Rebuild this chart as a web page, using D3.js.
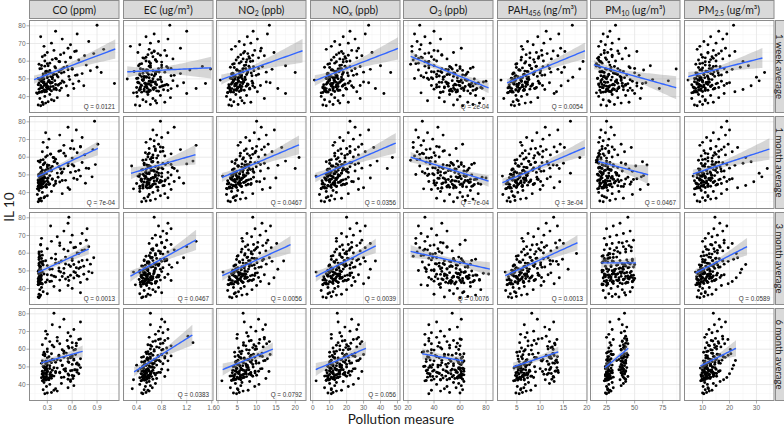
<!DOCTYPE html>
<html>
<head>
<meta charset="utf-8">
<script src="https://cdn.jsdelivr.net/npm/d3@7"></script>
<style>
  body { margin: 0; background: #fff; }
  svg { display: block; }
</style>
</head>
<body>
<script>
// ---- data ----
const periods = ["1 week average", "1 month average", "3 month average", "6 month average"];

// IL 10 for every subject (same subjects in each panel)
const il10 = [
  34.8, 35.5, 35.2, 36.3, 37.1, 36.8, 38.2, 38.9, 39.4, 40.1, 40.6, 41.2, 41.7, 37.6,
  42.1, 42.5, 42.9, 43.2, 43.6, 43.9, 44.2, 44.5, 44.8, 45.1, 45.4, 45.7, 46.0, 46.3, 46.6, 46.9, 47.2, 47.5, 47.8, 48.1, 48.4, 48.7, 49.0, 49.3, 49.6, 49.9, 42.7, 43.4, 44.0, 44.6, 45.3, 46.1, 46.8, 47.4, 48.2, 48.9,
  50.2, 50.6, 51.0, 51.4, 51.8, 52.2, 52.6, 53.0, 53.4, 53.8, 54.2, 54.6, 55.0, 55.4, 55.8, 56.2, 56.6, 57.0, 57.4, 57.8, 50.9, 52.0, 53.6, 55.6,
  58.3, 58.9, 59.5, 60.1, 60.7, 61.3, 61.9, 62.5, 63.1, 63.7, 64.3, 64.9, 65.5, 66.1, 66.7, 67.3, 59.8,
  68.4, 69.3, 70.2, 71.1, 72.5, 73.8, 75.4, 76.9, 80.3,
  42.3, 43.1, 43.7, 44.4, 45.0, 45.6, 46.2, 46.7, 47.3, 47.9, 48.5, 49.1, 49.7, 42.6, 43.5, 44.1, 44.9, 45.5, 46.4, 47.0, 47.7, 48.3, 49.4, 43.0, 44.7, 46.5, 48.0, 49.5, 45.8, 47.6,
  50.4, 51.2, 52.4, 53.2, 54.0, 54.8, 55.7, 56.4, 57.2, 50.7, 51.6, 52.8, 53.9, 55.2, 56.9, 57.6, 51.3, 53.3, 54.4, 55.9, 50.1, 52.5,
  58.6, 59.7, 60.9, 62.2, 63.4, 64.6, 61.6, 65.8
];

// exposure per subject, one list per averaging window (same subject order as il10)
const xCO = [
  [0.22,0.25,0.19,0.28,0.31,0.24,0.35,0.21,0.42,0.27,0.55,0.33,0.18,0.38, 0.17,0.23,0.29,0.35,0.26,0.41,0.2,0.32,0.47,0.24,0.3,0.37,0.53,0.22,0.28,0.44,0.61,0.34,0.25,0.5,0.31,0.68,0.39,0.21,0.57,0.36,0.27,0.45,0.33,0.62,0.29,0.74,0.4,1.11,0.26,0.48, 0.19,0.3,0.43,0.56,0.25,0.66,0.38,0.72,0.34,0.5,0.28,0.82,0.46,0.6,0.23,0.4,0.9,0.54,0.31,0.77,0.36,0.64,0.95,0.48, 0.2,0.33,0.52,0.27,0.68,0.41,0.58,0.24,0.75,0.46,0.86,0.3,0.63,0.38,0.98,0.55,0.44, 0.26,0.58,0.35,0.8,0.48,0.22,0.66,0.4,0.9,
   0.2,0.24,0.27,0.3,0.22,0.34,0.26,0.19,0.29,0.36,0.23,0.32,0.25,0.21,0.28,0.38,0.24,0.31,0.43,0.27,0.2,0.33,0.23,0.26,0.4,0.29,0.35,0.22,0.3,0.46, 0.24,0.3,0.37,0.28,0.44,0.33,0.21,0.5,0.27,0.36,0.42,0.25,0.31,0.55,0.39,0.23,0.34,0.47,0.29,0.6,0.26,0.41, 0.3,0.45,0.36,0.58,0.27,0.5,0.4,0.65],
  [0.19,0.21,0.23,0.2,0.26,0.22,0.3,0.18,0.48,0.24,0.35,0.2,0.57,0.27, 0.18,0.2,0.22,0.25,0.19,0.28,0.21,0.32,0.23,0.4,0.2,0.26,0.45,0.22,0.3,0.52,0.19,0.36,0.24,0.62,0.27,0.43,0.21,0.7,0.33,0.25,0.55,0.2,0.38,0.29,0.76,0.23,0.48,0.66,0.31,0.84, 0.2,0.26,0.42,0.58,0.23,0.35,0.68,0.29,0.5,0.77,0.22,0.44,0.62,0.32,0.88,0.26,0.55,0.72,0.38,0.19,0.47,0.64,0.8,0.3, 0.22,0.4,0.6,0.28,0.52,0.75,0.34,0.66,0.24,0.46,0.85,0.58,0.3,0.7,0.5,0.91,0.37, 0.25,0.6,0.32,0.72,0.45,0.28,0.65,0.55,0.87,
   0.19,0.21,0.23,0.2,0.25,0.22,0.27,0.19,0.24,0.3,0.21,0.26,0.2,0.23,0.28,0.22,0.33,0.19,0.25,0.21,0.36,0.24,0.2,0.29,0.22,0.4,0.26,0.23,0.31,0.21, 0.2,0.23,0.27,0.31,0.22,0.36,0.25,0.42,0.21,0.29,0.48,0.24,0.34,0.55,0.27,0.39,0.22,0.46,0.3,0.6,0.26,0.35, 0.25,0.38,0.3,0.5,0.44,0.62,0.34,0.7],
  [0.2,0.21,0.19,0.22,0.3,0.2,0.25,0.45,0.21,0.6,0.23,0.38,0.55,0.7, 0.19,0.2,0.22,0.21,0.28,0.19,0.35,0.2,0.45,0.23,0.52,0.2,0.62,0.22,0.4,0.68,0.21,0.58,0.3,0.74,0.2,0.5,0.64,0.24,0.8,0.44,0.21,0.7,0.33,0.56,0.78,0.2,0.48,0.66,0.26,0.84, 0.2,0.22,0.36,0.5,0.65,0.21,0.74,0.3,0.56,0.82,0.2,0.44,0.68,0.25,0.6,0.78,0.4,0.23,0.86,0.52,0.33,0.7,0.62,0.47, 0.21,0.24,0.4,0.66,0.2,0.55,0.75,0.3,0.62,0.8,0.45,0.22,0.7,0.58,0.35,0.77,0.68, 0.23,0.42,0.6,0.72,0.5,0.78,0.34,0.55,0.56,
   0.19,0.2,0.21,0.2,0.22,0.19,0.21,0.2,0.23,0.21,0.2,0.22,0.19,0.24,0.2,0.21,0.3,0.2,0.22,0.38,0.21,0.2,0.46,0.23,0.2,0.55,0.22,0.62,0.21,0.35, 0.2,0.21,0.22,0.2,0.24,0.21,0.28,0.2,0.35,0.22,0.44,0.21,0.52,0.23,0.6,0.2,0.68,0.25,0.4,0.72,0.21,0.58, 0.21,0.2,0.23,0.5,0.64,0.22,0.72,0.45],
  [0.27,0.35,0.3,0.42,0.25,0.38,0.55,0.29,0.62,0.33,0.47,0.26,0.58,0.4, 0.24,0.28,0.31,0.26,0.35,0.23,0.5,0.29,0.38,0.6,0.25,0.33,0.55,0.27,0.45,0.66,0.3,0.24,0.58,0.36,0.63,0.28,0.52,0.42,0.7,0.26,0.32,0.61,0.47,0.25,0.56,0.68,0.34,0.4,0.64,0.3, 0.25,0.33,0.48,0.6,0.28,0.66,0.4,0.55,0.24,0.62,0.36,0.7,0.3,0.5,0.58,0.27,0.44,0.64,0.35,0.53,0.68,0.23,0.46,0.6, 0.26,0.5,0.62,0.3,0.56,0.38,0.65,0.24,0.45,0.6,0.33,0.54,0.68,0.28,0.42,0.58,0.64, 0.3,0.55,0.28,0.62,0.45,0.36,0.7,0.5,0.38,
   0.25,0.28,0.32,0.26,0.36,0.29,0.24,0.4,0.3,0.27,0.5,0.33,0.26,0.58,0.31,0.28,0.62,0.35,0.25,0.45,0.3,0.66,0.27,0.55,0.34,0.29,0.6,0.38,0.24,0.52, 0.26,0.3,0.35,0.28,0.42,0.55,0.32,0.6,0.27,0.48,0.65,0.3,0.38,0.58,0.25,0.5,0.68,0.33,0.62,0.44,0.29,0.56, 0.3,0.48,0.6,0.36,0.65,0.42,0.55,0.7]
];
const xEC = [
  [0.45,0.62,0.38,0.72,0.55,0.85,0.5,0.66,0.94,0.41,0.78,0.58,1.2,0.7, 0.35,0.48,0.6,0.72,0.44,0.83,0.52,0.95,0.66,0.4,0.77,0.56,1.05,0.63,0.47,0.88,0.7,0.53,1.15,0.42,0.8,0.6,0.98,0.5,0.74,0.25,0.58,0.9,0.67,1.35,0.46,0.82,0.55,1.5,0.7,0.62, 0.4,0.6,0.78,0.52,0.95,0.45,0.7,1.1,0.57,0.85,0.36,0.66,1.25,0.5,0.75,0.9,0.62,1.45,0.43,0.8,0.56,1.0,0.7,1.58, 0.45,0.62,0.8,0.55,0.7,0.98,0.5,0.66,0.88,0.58,0.74,0.42,0.68,0.85,0.6,1.1,0.72, 0.3,0.45,0.62,0.75,0.9,0.55,0.68,1.2,0.93,
   0.4,0.52,0.6,0.45,0.68,0.55,0.48,0.72,0.58,0.42,0.65,0.5,0.78,0.56,0.62,0.46,0.7,0.53,0.85,0.6,0.44,0.66,0.51,0.75,0.57,0.9,0.63,0.49,0.8,0.54, 0.42,0.55,0.64,0.5,0.72,0.58,0.46,0.8,0.6,0.52,0.68,0.45,0.76,0.56,0.88,0.62,0.48,0.7,0.54,0.95,0.66,0.59, 0.48,0.6,0.7,0.55,0.78,0.64,0.52,0.68],
  [0.48,0.62,0.55,0.7,0.9,0.52,0.78,0.6,0.85,0.66,0.45,0.74,0.95,0.58, 0.35,0.5,0.62,0.72,0.45,0.82,0.56,0.66,0.92,0.4,0.6,0.76,0.52,1.0,0.68,0.47,0.86,0.58,0.73,0.64,1.08,0.55,0.8,0.42,0.7,0.95,0.6,0.5,0.84,0.66,1.15,0.57,0.78,0.48,0.9,0.7, 0.45,0.6,0.75,0.9,0.55,1.05,0.66,0.5,0.82,0.62,0.97,0.7,0.32,0.58,0.86,1.2,0.52,0.74,0.64,1.3,0.8,0.68,1.0,0.56, 0.5,0.62,0.72,0.58,0.85,0.66,0.95,0.54,0.78,0.7,1.1,0.6,0.82,0.68,1.35,0.75,0.64, 0.55,0.68,0.62,0.8,0.72,0.9,0.66,1.0,0.78,
   0.45,0.55,0.62,0.5,0.68,0.58,0.48,0.72,0.6,0.53,0.66,0.44,0.75,0.57,0.64,0.5,0.7,0.56,0.8,0.61,0.47,0.67,0.54,0.74,0.59,0.85,0.63,0.52,0.78,0.58, 0.5,0.6,0.68,0.55,0.75,0.62,0.52,0.82,0.65,0.57,0.72,0.48,0.8,0.6,0.9,0.66,0.54,0.74,0.58,0.95,0.7,0.63, 0.55,0.66,0.74,0.6,0.82,0.7,0.58,0.78],
  [0.48,0.55,0.5,0.62,0.45,0.58,0.7,0.52,0.66,0.6,0.75,0.47,0.56,0.8, 0.38,0.5,0.56,0.62,0.46,0.7,0.53,0.6,0.78,0.44,0.58,0.66,0.5,0.85,0.57,0.63,0.48,0.74,0.55,0.9,0.6,0.52,0.68,0.35,0.8,0.58,0.64,0.5,0.72,0.95,0.56,0.62,0.47,0.76,0.67,0.54, 0.45,0.58,0.7,0.55,0.82,0.63,0.5,0.75,0.92,0.6,0.68,1.05,0.57,0.8,0.66,0.52,0.88,0.72,1.15,0.62,0.78,0.96,0.7,0.85, 0.55,0.7,0.82,0.62,0.9,0.75,1.0,0.66,0.85,1.2,0.72,0.95,0.6,0.8,1.35,0.88,0.78, 0.65,0.78,0.7,0.88,0.82,0.95,0.75,0.9,0.68,
   0.46,0.52,0.58,0.5,0.62,0.55,0.48,0.66,0.57,0.51,0.6,0.45,0.68,0.54,0.59,0.49,0.64,0.53,0.72,0.56,0.47,0.61,0.52,0.7,0.55,0.75,0.58,0.5,0.65,0.54, 0.5,0.58,0.66,0.54,0.72,0.6,0.52,0.78,0.63,0.56,0.7,0.48,0.76,0.59,0.84,0.65,0.53,0.74,0.57,0.88,0.68,0.62, 0.6,0.7,0.78,0.64,0.85,0.72,0.66,0.8],
  [0.5,0.55,0.48,0.6,0.52,0.58,0.65,0.54,0.62,0.45,0.7,0.56,0.6,0.33, 0.47,0.52,0.56,0.5,0.6,0.45,0.54,0.64,0.5,0.58,0.7,0.53,0.48,0.62,0.56,0.75,0.51,0.6,0.42,0.66,0.55,0.8,0.58,0.5,0.68,0.62,0.35,0.72,0.57,0.85,0.6,0.53,0.78,0.64,0.9,0.58, 0.5,0.6,0.72,0.55,0.82,0.64,0.52,0.78,0.9,0.58,0.7,0.62,0.85,0.48,0.75,0.95,0.66,0.8,0.56,0.88,0.4,0.68,0.76,0.62, 0.55,0.68,0.8,0.62,0.88,0.72,0.95,0.58,0.78,1.3,0.66,0.85,0.75,0.9,0.6,1.22,0.82, 0.7,0.82,0.75,0.9,0.78,0.62,0.85,0.8,0.62,
   0.48,0.52,0.56,0.5,0.6,0.54,0.47,0.63,0.55,0.51,0.58,0.46,0.65,0.53,0.57,0.49,0.61,0.52,0.68,0.55,0.48,0.59,0.51,0.66,0.54,0.72,0.57,0.5,0.62,0.53, 0.5,0.56,0.62,0.53,0.68,0.58,0.51,0.74,0.6,0.55,0.66,0.48,0.72,0.57,0.8,0.63,0.52,0.7,0.56,0.85,0.65,0.6, 0.58,0.68,0.76,0.62,0.82,0.7,0.64,0.78]
];
const xNO2 = [
  [3.5,5.2,2.8,6.8,4.1,8.5,3.2,12,5.8,2.2,7.4,4.6,17.5,6.2, 2.5,4,5.5,3.2,6.8,4.6,8.2,3.6,5.1,9.5,2.9,6.2,4.3,11,5.7,3.4,7.6,4.9,13.5,6.5,3.9,8.8,5.3,0.6,7.1,4.4,10.2,6,3.1,15.5,5.1,9,7.8,4.7,12.5,6.6, 3.5,5.2,7,4.4,8.8,6.1,10.5,3.9,7.6,12.5,5.5,9.3,4.8,14,6.6,8.2,3.2,11.5,17.5,7.2,5.9,9.9,20,6.4, 3.8,5.5,7.3,9,4.7,6.5,10.5,8,12,5.9,7.7,14.5,6.9,9.5,3.5,11.2,8.4, 4.5,6.8,8.5,5.5,10.2,7.6,12.8,9.1,13.3,
   2.5,3.4,4.2,5,3,5.8,4.6,2.8,6.4,3.8,5.3,4.1,7,3.3,4.8,6,2.6,5.5,7.6,4.4,3.6,6.7,5.1,3.1,8.2,4.7,5.9,3.9,7.3,9, 3.2,4.5,5.6,3.8,6.5,5,7.2,4.2,8,5.4,6.1,3.5,7.7,4.9,9.2,6.8,4,8.6,5.8,10.5,6.3,7.4, 4.2,6,7.5,5.2,9,6.6,8.2,11],
  [3.2,4.5,2.6,5.8,3.9,7.2,4.8,2.2,9,6.3,3.5,5.1,11.5,4.2, 2.4,3.6,4.8,3,6,4.2,7.3,3.4,5.3,8.6,2.8,6.6,4.5,10,5.6,3.8,7.9,4.9,12,6.3,3.2,9.2,5.4,1.2,7.2,4.6,13.5,6.1,3.9,8.5,5.8,10.8,7.4,4.3,15,6.8, 3.9,5.6,7.5,9.3,4.8,11,6.5,8.4,4.2,13,7.1,9.9,5.3,15.5,8,6.2,12,10.4,3.6,17.5,7.8,9.1,20,6.9, 4.6,6.4,8.5,10.5,5.7,12.2,7.6,9.6,14,6.8,11.3,8.9,16.5,10,5.2,13,21, 5.8,8.2,10.6,7.2,12.5,9.4,14.6,11.2,10,
   2.2,3.1,3.9,4.7,2.7,5.4,4.3,2.5,6,3.5,5,3.8,6.6,3,4.5,5.7,2.4,5.2,7.2,4.1,3.3,6.3,4.8,2.9,7.8,4.4,5.6,3.6,6.9,8.5, 3.4,4.7,5.8,4,6.8,5.2,7.5,4.4,8.4,5.6,6.4,3.7,8,5.1,9.6,7.1,4.2,9,6.1,11,6.6,7.7, 4.8,6.6,8.2,5.8,9.8,7.3,9,12],
  [3.6,4.8,3,6.2,4.2,7.5,5.3,2.5,8.8,5.9,4,6.8,10,4.5, 2.8,4,5.2,3.4,6.5,4.6,7.8,3.7,5.8,9.2,3.1,6.9,4.9,10.5,6,4.3,8.4,5.4,12,7.2,3.5,9.7,5.7,1.3,7.6,4.8,13.2,6.4,11,8.8,5.1,14.5,7,9.5,6.2,10.2, 4.2,6,7.9,9.6,5.1,11.2,6.8,8.8,4.6,12.5,7.4,10.1,5.6,14,8.3,6.4,11.8,9.4,13.3,7.7,15.5,10.6,8.1,17, 5,6.9,8.9,10.8,6,12.4,7.9,9.8,13.8,7.1,11.6,9.2,15.2,10.3,6.4,12.9,8.6, 6.2,8.7,10.9,7.5,12.4,9.6,13.6,11.4,9,
   2.6,3.5,4.3,5.1,3.1,5.8,4.7,2.9,6.4,3.9,5.4,4.2,7,3.4,4.9,6.1,2.8,5.6,7.6,4.5,3.7,6.7,5.2,3.3,8.2,4.8,6,4,7.3,8.9, 3.8,5.1,6.2,4.4,7.2,5.6,7.9,4.8,8.8,6,6.8,4.1,8.4,5.5,10,7.5,4.6,9.4,6.5,11.5,7,8.1, 5.2,7,8.6,6.2,10.2,7.7,9.4,12.5],
  [4.8,5.5,4,6.5,5.2,7.8,3.2,9.5,5.9,10.6,4.5,6.2,8.2,5, 1,3.6,4.6,5.4,4.1,6.3,5,7.4,3.1,5.8,8.6,4.4,6.8,5.3,9.6,4.9,7.2,10.5,5.6,3.8,8,6.1,11.4,4.7,7.7,9.1,5.9,12.4,6.6,4.2,10,7.3,8.5,13.2,6.4,11, 3.9,5.6,7.3,9,4.7,10.6,6.4,8.3,11.8,5.2,7.9,12.8,6.8,9.5,4.4,10.9,8.6,13.5,6,11.4,7.6,9.9,12.2,5.5, 4.3,6.2,8.1,10,5.3,11.7,7.2,9.3,12.6,6.6,13.3,8.6,10.8,4.9,12,7.8,9.6, 5,7.4,9.8,11.6,8.5,12.3,6.8,10.5,6.5,
   3.5,4.3,5,5.8,3.9,6.5,5.4,3.7,7.1,4.6,6.1,4.9,7.8,4.1,5.6,6.8,3.4,6.3,8.4,5.2,4.4,7.4,5.9,4,9,5.5,6.7,4.7,8,9.6, 4.2,5.5,6.6,4.8,7.6,6,8.3,5.2,9.2,6.4,7.2,4.5,8.8,5.9,10.4,7.9,5,9.8,6.9,11.5,7.4,8.6, 5.6,7.4,9,6.6,10.6,8.1,9.8,12]
];
const xNOx = [
  [8,12,6,16,10,21,7,28,13,5,18,11,42,15, 5,9,13,7,16,10,20,8,12,24,6,15,11,28,14,8,19,12,33,16,9,22,13,1,18,10,26,15,7,37,12,23,19,11,30,17, 8,12,17,10,21,14,26,9,18,30,13,23,11,34,16,20,7,28,40,17,14,24,46,15, 9,13,18,22,11,16,26,19,29,14,18,35,17,23,8,27,20, 11,16,21,13,25,18,31,22,33,
   6,8,10,12,7,14,11,6.5,15,9,13,10,17,8,12,14.5,6,13.5,18,10.5,8.5,16,12.5,7.5,19.5,11.5,14,9.5,17.5,21, 8,11,13.5,9,15.5,12,17,10,19,13,14.5,8.5,18,11.5,22,16,9.5,20.5,14,25,15,17.5, 10,14,18,12.5,21,15.5,19.5,26],
  [7,10,5,13,8,17,11,4,21,14,8,12,27,9, 5,8,11,6,14,9,17,7,12,20,6,15,10,23,13,8,18,11,27,14,7,21,12,2,16,10,30,14,9,19,13,24,17,10,34,15, 9,13,17,21,11,25,15,19,10,29,16,22,12,34,18,14,27,23,8,38,17,20,44,15, 10,14,19,24,13,27,17,22,31,15,25,20,36,22,12,29,47, 13,18,24,16,28,21,33,25,22,
   5,7,9,11,6,12.5,10,5.5,14,8,12,9,15.5,7,10.5,13,5.5,12,16.5,9.5,7.5,14.5,11,6.5,18,10,13.5,8.5,16,19.5, 8,10.5,13,9,15,11.5,17,10,19,12.5,14,8.5,18,11,22,16,9.5,20.5,13.5,25,15,17.5, 11,15,19,13,22,16.5,20.5,27],
  [8,11,6,14,9,17,12,5,20,13,9,15,23,10, 6,9,12,7,15,10,18,8,13,21,7,16,11,24,14,9,19,12,27,16,8,22,13,2,17,11,30,15,25,20,12,33,16,22,14,23, 9,14,18,22,11,25,15,20,10,28,17,23,13,31,19,14,27,21,30,17,34,24,18,37, 11,16,20,24,13,28,18,22,31,16,26,21,34,23,14,29,19, 14,20,24,17,28,22,31,26,20,
   6,8,10,12,7,13.5,11,6.5,15,9,13,10,16.5,8,11.5,14,6,13,17.5,10.5,8.5,15.5,12,7.5,19,11,14.5,9.5,17,20.5, 9,12,14.5,10,16.5,13,18.5,11,20.5,14,15.5,9.5,19.5,12.5,23.5,17.5,10.5,22,15,26,16,19, 12,16,20,14,23,17.5,21.5,28],
  [11,12,9,14,11,17,7,21,13,24,10,14,18,11, 2,8,10,12,9,14,11,16,7,13,19,10,15,12,21,11,16,23,12,8,18,14,25,10,17,20,13,27,15,9,22,16,19,29,14,24, 9,12,16,20,10,23,14,18,26,11,17,28,15,21,10,24,19,30,13,25,17,22,27,12, 10,14,18,22,12,26,16,20,28,15,29,19,24,11,27,17,21, 11,16,22,26,19,27,15,23,14.5,
   8,9.5,11,12.5,9,14,12,8.5,15.5,10,13.5,11,17,9.5,12.5,15,8,14,18.5,11.5,10,16.5,13,9,20,12,15.5,10.5,18,21.5, 9,12,14.5,10.5,16.5,13,18.5,11.5,20,14,16,10,19.5,13,23,17.5,11,21.5,15,25,16,19, 12.5,16,19.5,14,22.5,17.5,21,26]
];
const xO3 = [
  [62,70,55,75,48,66,58,78,44,60,72,52,68,35, 30,45,58,66,52,72,40,61,55,76,48,64,70,38,57,68,50,74,62,44,59,80,54,66,36,71,47,63,56,73,42,60,67,51,78,58, 25,38,47,55,30,62,42,51,34,66,45,58,28,49,60,36,70,52,40,57,32,64,46,54, 22,28,35,42,24,50,31,38,26,46,33,55,23,40,29,61,36, 23,30,37,27,45,33,25,40,29,
   45,52,58,63,48,68,55,42,72,50,60,65,47,57,70,53,62,44,67,56,74,49,61,54,77,59,46,64,51,69, 35,42,50,56,38,62,46,53,33,58,44,65,40,51,60,36,48,55,43,68,39,52, 26,33,40,30,46,36,28,43],
  [55,64,48,70,58,42,66,52,74,60,45,68,38,62, 32,46,57,65,50,70,41,60,54,74,47,63,68,36,56,66,49,72,61,43,58,77,53,65,35,69,46,62,55,71,40,59,64,51,80,57, 26,39,48,56,31,63,43,52,35,67,46,59,29,50,61,37,71,53,41,58,33,65,47,55, 22,29,36,44,25,52,32,40,27,48,34,57,24,42,30,62,38, 24,32,39,28,47,35,26,43,31,
   43,50,56,62,46,67,53,40,71,48,59,64,45,55,69,51,61,42,66,54,73,47,60,52,76,57,44,63,49,68, 36,43,51,57,39,63,47,54,34,59,45,66,41,52,61,37,49,56,44,69,40,53, 27,34,41,31,47,37,29,44],
  [60,66,48,72,55,40,63,52,76,58,45,68,35,62, 30,44,56,63,49,70,40,60,53,75,46,62,67,36,55,65,48,73,60,42,58,78,52,64,34,69,45,61,54,71,38,59,66,50,82,57, 28,40,50,57,33,64,44,53,36,68,47,60,31,52,62,38,72,55,42,59,34,66,48,56, 24,32,39,46,27,54,35,43,29,50,37,60,26,45,33,64,41, 26,35,42,30,50,38,28,46,33,
   44,51,57,62,47,66,54,41,70,49,59,63,46,56,68,52,60,43,65,55,72,48,61,53,75,58,45,64,50,67, 38,45,52,58,41,63,48,55,36,60,46,66,42,53,61,39,50,57,44,69,40,54, 30,37,44,33,50,40,32,47],
  [36,52,60,45,62,38,57,50,61,42,59,55,63,48, 33,38,45,52,58,61,35,42,49,55,60,62,37,44,51,57,61,63,34,40,47,54,59,62,36,43,50,56,60,39,46,53,58,61,35,63, 32,37,43,49,55,59,62,34,40,46,52,57,61,36,42,48,54,60,63,38,45,51,58,62, 31,35,40,46,52,57,60,33,38,44,50,55,61,36,42,48,59, 33,38,45,52,58,36,42,61,54,
   34,40,47,54,59,61,36,43,50,57,60,62,38,45,52,58,61,63,35,42,49,56,60,62,37,44,53,59,61,39, 33,39,46,53,58,61,35,41,48,55,60,62,37,44,51,57,61,63,34,42,50,59, 32,38,45,52,58,36,43,60]
];
const xPAH = [
  [4.5,5.5,3.8,6.8,4.2,8,5,2.2,9.5,6,4.8,7.2,13,5.3, 3,4.2,5.3,3.6,6.6,4.8,7.8,3.9,5.7,9.2,3.3,6.9,5,10.5,6.2,4.4,8.4,5.5,12,7.1,3.7,9.6,6,1.6,7.5,4.6,13.5,6.4,11,8.8,5.2,14.5,7.3,9.9,6.8,16, 4,5.8,7.5,9.4,4.8,11,6.6,8.5,4.3,12.3,7.2,10.1,5.4,13.8,8.1,6.2,15.2,9.1,11.7,7.7,17,10.4,14.6,18.5, 4.8,6.7,8.8,10.7,5.9,12.4,7.8,9.7,13.8,7,11.5,9.2,15.3,10.3,6.3,14.4,19.2, 6,8.5,10.8,7.3,12.2,9.5,14,11.3,16.9,
   3.2,4,4.8,5.6,3.6,6.3,5.2,3.4,7,4.4,6,4.7,7.6,3.9,5.4,6.6,3.1,6.1,8.3,5,4.2,7.3,5.8,3.7,9,5.3,6.8,4.5,8,9.8, 3.8,5.2,6.4,4.4,7.4,5.7,8.2,4.9,9.2,6.2,7,4.1,8.8,5.5,10.6,7.8,4.6,10,6.7,12,7.2,8.6, 5,6.9,8.6,6,10.4,7.8,9.6,12.8],
  [3.6,4.6,2.9,5.8,3.3,7,4.2,2,8.3,5.2,3.9,6.3,10,4.5, 2.6,3.8,4.9,3.2,6.1,4.4,7.3,3.5,5.4,8.8,3,6.6,4.7,10.1,5.9,4.1,8,5.2,11.5,6.8,3.4,9.3,5.7,1.9,7.2,4.3,13,6.2,10.6,8.5,5,14.2,7,9.6,6.5,12.2, 3.8,5.6,7.4,9.2,4.6,10.8,6.4,8.3,4.1,12.1,7,9.9,5.2,13.6,7.9,6,15,8.9,11.5,7.5,16.5,10.2,14.1,12.8, 4.6,6.5,8.6,10.5,5.7,12.2,7.6,9.5,13.6,6.8,11.3,9,15.2,10.1,6.1,14.3,18.5, 5.8,8.3,10.6,7.1,12,9.3,13.8,11.1,16.5,
   2.8,3.6,4.4,5.2,3.2,5.9,4.8,3,6.6,4,5.6,4.3,7.2,3.5,5,6.2,2.7,5.7,7.9,4.6,3.8,6.9,5.4,3.3,8.6,4.9,6.4,4.1,7.6,9.4, 3.6,5,6.2,4.2,7.2,5.5,8,4.7,9,6,6.8,3.9,8.6,5.3,10.4,7.6,4.4,9.8,6.5,11.8,7,8.4, 5,7,8.8,6.2,10.6,8,9.8,13],
  [3.9,4.9,3.2,6,3.6,7.2,4.5,2.6,8.5,5.5,4.2,6.6,10.2,4.8, 2.9,4.1,5.2,3.5,6.4,4.7,7.6,3.8,5.7,9,3.3,6.9,5,10.3,6.2,4.4,8.3,5.5,11.7,7.1,3.7,9.5,6,2.5,7.5,4.6,13,6.5,10.8,8.7,5.3,14.1,7.3,9.8,6.8,12.3, 4.1,5.9,7.7,9.4,4.9,11,6.7,8.5,4.4,12.2,7.3,10.1,5.5,13.5,8.2,6.3,14.8,9.1,11.7,7.8,16,10.4,13.9,12.7, 4.9,6.8,8.8,10.7,6,12.3,7.9,9.7,13.6,7.1,11.4,9.3,15,10.3,6.4,14.2,17.8, 6.1,8.6,10.8,7.4,12.1,9.6,13.7,11.3,12.9,
   3,3.8,4.6,5.4,3.4,6.1,5,3.2,6.8,4.2,5.8,4.5,7.4,3.7,5.2,6.4,2.9,5.9,8.1,4.8,4,7.1,5.6,3.5,8.8,5.1,6.6,4.3,7.8,9.6, 3.9,5.3,6.5,4.5,7.5,5.8,8.3,5,9.3,6.3,7.1,4.2,8.9,5.6,10.7,7.9,4.7,10.1,6.8,12.1,7.3,8.7, 5.3,7.3,9.1,6.5,10.9,8.3,10.1,13.3],
  [5.5,6.2,4.8,7,5.8,8,6.5,5.1,9,6.8,12,7.5,13,5.9, 4.3,5.2,5.9,6.6,5,7.3,5.6,6.1,8.2,4.7,6.8,11.5,5.4,12.4,7.1,6,9,13.2,5.8,7.7,12,6.4,10,4.4,13.6,6.9,11.1,5.5,8.6,12.8,6.3,7.4,13.9,10.5,5.3,12.2, 4.8,5.9,7.2,11.8,6.4,12.7,8,5.5,13.3,7,10.6,6.2,12.1,8.8,13.7,5.2,11.3,7.6,12.9,9.6,6.7,13.1,10.2,11.9, 5,6.5,8.1,11.7,6,12.6,7.4,13.2,9.2,5.6,12,8.7,13.6,10.4,6.8,11.3,12.8, 5.8,7.2,8.6,12,11,6.6,12.9,9.4,8.2,
   4.6,5.2,5.8,6.4,5,7,5.5,4.8,7.6,6,11.2,5.3,12.3,6.6,5.7,12.9,6.2,7.3,11.8,5.1,13.4,6.9,5.9,12.5,8,6.5,13.8,5.4,10.8,7.8, 5,5.8,6.6,11.5,7.2,12.4,6,13,8.4,5.5,11.9,6.9,13.5,9.2,6.3,12.7,7.7,10.4,5.3,12.2,8.8,13.7, 5.6,6.8,12.3,8.2,13.1,7.4,11.6,9.6]
];
const xPM10 = [
  [25,32,20,38,28,45,22,55,35,18,42,30,50,27, 16,22,28,34,19,40,25,31,46,21,36,27,52,23,30,42,18,35,60,26,33,48,20,29,66,38,24,44,32,72,27,39,21,57,34,80, 17,24,30,37,20,43,27,33,50,22,40,29,58,25,35,46,19,32,64,28,38,54,23,87, 16,21,27,33,18,39,24,30,45,20,36,26,52,23,29,42,19, 18,24,30,20,36,26,22,28,33,
   20,25,30,35,22,40,28,18,44,24,33,38,21,29,48,26,36,19,42,31,52,23,34,27,56,32,20,46,25,39, 17,22,27,32,19,37,24,29,16,41,23,34,20,28,45,18,26,31,21,50,25,35, 16,20,25,18,30,23,17,35],
  [22,28,19,33,25,40,21,48,30,18,36,26,55,23, 17,21,25,30,19,35,23,27,41,20,32,24,47,22,28,38,18,31,52,26,29,44,20,25,58,34,22,40,28,62,24,36,19,49,30,56, 17,22,27,33,19,39,24,29,45,20,35,26,51,22,31,42,18,28,57,25,34,48,21,61, 16,20,25,30,18,35,22,27,41,19,32,24,47,21,26,38,17, 18,22,27,19,32,24,20,29,25,
   18,21,24,28,19,32,23,17,35,20,26,30,18,22,38,25,29,19,33,24,42,21,27,23,46,26,20,36,22,31, 17,20,23,27,18,31,21,25,16,34,20,28,18,24,38,17,22,26,19,42,21,29, 17,20,23,18,27,21,19,30],
  [24,30,36,42,27,33,46,22,39,29,48,35,25,41, 21,26,31,37,43,48,23,28,34,40,45,50,22,27,33,38,44,49,24,30,35,41,46,21,26,32,39,44,48,25,29,36,42,47,23,31, 22,27,33,39,44,49,24,29,35,41,46,21,26,31,37,43,48,23,28,34,40,45,50,30, 21,26,31,37,42,47,23,28,34,40,45,25,30,36,43,49,27, 23,28,34,40,46,25,31,37,44,
   22,26,30,35,40,45,48,24,28,33,38,43,47,21,25,31,36,41,46,23,27,32,37,42,49,29,34,39,44,26, 21,25,29,34,39,44,48,23,27,32,37,42,46,22,26,31,36,41,45,24,30,40, 22,28,35,42,47,25,32,39],
  [25,27,24,29,26,28,31,25,38,27,40,30,42,26, 23,25,27,24,29,26,31,25,28,39,24,27,41,26,30,38,25,28,42,27,36,40,24,29,43,26,37,41,28,44,25,39,30,42,27,40, 24,27,30,38,25,41,28,39,26,42,36,29,40,43,27,38,44,31,41,25,39,42,34,43, 26,29,38,41,27,42,37,40,44,28,39,43,31,41,25,42,38, 27,38,41,30,43,39,28,36,41,
   24,25,26,27,28,24,25,29,26,27,38,25,39,26,28,40,24,27,41,25,29,37,26,42,28,38,30,39,27,40, 25,26,27,38,28,39,26,40,29,41,27,42,25,38,30,43,28,39,26,41,37,40, 27,38,40,29,42,39,41,43]
];
const xPM25 = [
  [8,10,7,12,9,14,11,6,16,10,13,8.5,18,11, 6,8,10,7,12,9,14,7.5,11,16,6.5,13,9.5,18,10.5,8,15,11.5,20,12.5,7,17,10,4.6,13.5,9,22,11,25,14.5,8.5,28,12,19,10,31, 7,9.5,12,14.5,8,17,10.5,13,7.5,19,11.5,15.5,9,21,12.5,10,24,14,27,11,30,16,33,13, 7.5,10,12.5,15,8.5,17.5,11,13.5,20,9.5,16,12,22,14,8,18.5,25, 9,12,15,10.5,17.5,13,19,16,21.5,
   6.5,7.5,8.5,9.5,7,10.5,9,6,11.5,8,10,8.8,12.5,7.2,9.3,11,6.8,10.2,13.5,8.6,7.8,12,9.7,7.4,14.5,9.1,11.3,8.2,13,15.5, 7.5,9,10.5,8,12,9.8,13.5,8.5,15,10.8,11.8,7.8,14.2,9.4,16.5,12.6,8.8,15.8,11.2,18,12.2,13.8, 9,11,13,10,15,12,14,17],
  [9,11,8,13,10,15,12,7,17,11,14,9.5,19,12, 7,9,11,8,13,10,15,8.5,12,17,7.5,14,10.5,19,11.5,9,16,12.5,21,13.5,8,18,11,6.5,14.5,10,23,12,26,15.5,9.5,29,13,20,11,32, 8,10.5,13,15.5,9,18,11.5,14,8.5,20,12.5,16.5,10,22,13.5,11,25,15,28,12,31,17,34,14, 8.5,11,13.5,16,9.5,18.5,12,14.5,21,10.5,17,13,23,15,9,19.5,26, 10,13,16,11.5,18.5,14,20,17,19,
   7.5,8.5,9.5,10.5,8,11.5,10,7,12.5,9,11,9.8,13.5,8.2,10.3,12,7.8,11.2,14.5,9.6,8.8,13,10.7,8.4,15.5,10.1,12.3,9.2,14,16.5, 8.5,10,11.5,9,13,10.8,14.5,9.5,16,11.8,12.8,8.8,15.2,10.4,17.5,13.6,9.8,16.8,12.2,19,13.2,14.8, 10,12,14,11,16,13,15,18],
  [9,10.5,8,12,9.5,13.5,11,8.5,15,10,12.5,9,17,11, 7.5,9,10.5,8,12,9.5,13.5,8.5,11,15,7.8,12.5,10,16.5,11.5,9,14,12,18,13,8.2,15.5,10.8,7.4,13.8,9.8,19.5,11.8,21,14.5,9.4,22.5,12.8,17,10.2,24, 8.5,10.5,12.5,14.5,9.2,16.5,11.2,13.2,8.8,18,12,15.2,10,19.5,13.6,11,21.5,14.8,23,12.3,24.5,16,26,17.5, 9.5,11.5,13.5,15.5,10.2,17.5,12.2,14.2,19.5,11,16.2,13,21,14.8,10,18,22.5, 11,13.5,15.5,12.2,17.5,14.2,19,16.4,14.6,
   8,8.8,9.6,10.4,8.4,11.2,9.9,7.8,12,9.2,10.8,9.5,12.8,8.6,10.1,11.6,8.2,10.9,13.6,9.4,8.9,12.4,10.5,8.7,14.4,9.8,11.8,9,13.2,15.2, 9,10.2,11.4,9.6,12.6,10.8,13.8,10,15,11.8,12.2,9.3,14.4,10.6,16.2,13,9.8,15.6,11.6,17.4,12.8,14, 10.5,12.5,14.5,11.5,16.5,13.5,15.5,18],
  [10.5,11.5,10,12.5,11,13.5,12,10.2,15,11.8,14,10.8,16.5,12.2, 9.3,10.2,11,9.8,12,10.6,13,9.6,11.4,14.2,9.4,12.6,10.9,15.2,11.8,10.3,13.8,12.3,16.5,13.2,9.9,15,11.6,9.2,14.6,10.7,17.8,12.8,19,14,11.2,20,13.5,16,12.1,21, 10,11.5,13,14.5,10.6,16,12.2,13.6,10.3,17.2,12.8,15.2,11.2,18.4,14,11.8,19.5,15.6,20.5,13.3,21.5,16.6,22.2,17.8, 10.4,12,13.6,15.2,11,16.8,12.6,14.4,18.2,11.6,15.8,13.2,19.4,14.8,10.8,17.4,20.3, 11.5,13.5,15.5,12.4,17,14.4,18.5,16.2,14,
   9.6,10.3,11,11.7,10,12.4,11.3,9.8,13.1,10.6,12,10.9,13.8,10.2,11.5,12.7,9.9,12.2,14.5,11.1,10.5,13.4,11.8,10.4,15.2,11.4,12.9,10.8,14,16, 10.4,11.4,12.4,10.9,13.4,12,14.4,11.2,15.4,12.8,13,10.7,14.8,11.8,16.4,13.8,11.6,16,12.6,17.6,13.6,14.6, 11.5,13,14.5,12.2,16,13.8,15.2,17.5]
];

// fitted lm lines: [x start, IL10 start, x end, IL10 end]
const fitCO   = [[0.14,49.6,1.12,66.9],[0.18,49,0.91,65],[0.19,49.2,0.8,62.4],[0.225,52.2,0.726,58.8]];
const fitEC   = [[0.25,54,1.59,56.3],[0.31,50.9,1.34,61.4],[0.3,47,1.35,67.5],[0.36,47.2,1.29,68]];
const fitNO2  = [[0.85,49.6,21.9,65.9],[1,48.5,21,67],[1.1,47.3,18.8,64.8],[1.2,48.5,14.2,60]];
const fitNOx  = [[1.2,49,50.3,67.2],[1.5,48.5,49,68],[1.8,46.8,37.2,64.2],[1.8,48.5,31.4,60.5]];
const fitO3   = [[22,62.7,82,44.9],[22,60,82,46.5],[22,61,83,51],[31,57.4,62.5,53.4]];
const fitPAH  = [[2.9,47.7,19.6,65.9],[1.9,45.6,19.6,65.4],[2.5,47.3,18,65.9],[4.2,50,13.9,58.5]];
const fitPM10 = [[13.7,58,87,45],[17.5,57.6,62,50.1],[20.3,54.5,51.2,54.5],[23.5,49.5,44.3,60.5]];
const fitPM25 = [[4.7,51.3,32.2,61.8],[6.4,50.5,34.8,64.6],[7.4,48.8,26.5,63.7],[9.2,50.5,22.4,60.5]];

// Q values per row (columns in pollutant order)
const qLabels = [
  ["Q = 0.0121", null, null, null, "Q = 2e-04", "Q = 0.0054", null, null],
  ["Q = 7e-04", null, "Q = 0.0467", "Q = 0.0356", "Q = 7e-04", "Q = 3e-04", "Q = 0.0467", null],
  ["Q = 0.0013", "Q = 0.0467", "Q = 0.0056", "Q = 0.0039", "Q = 0.0076", "Q = 0.0013", null, "Q = 0.0589"],
  [null, "Q = 0.0383", "Q = 0.0792", "Q = 0.056", null, null, null, null]
];

const yTicks = [40, 50, 60, 70, 80];

// strip label pieces: [text, isSubscript]
const pollutants = [
  { label: [["CO (ppm)"]], xs: xCO, fit: fitCO, domain: [0.085, 1.165], ticks: [0.3, 0.6, 0.9], fmt: d3.format(".1f") },
  { label: [["EC (ug/m\u00b3)"]], xs: xEC, fit: fitEC, domain: [0.19, 1.62], ticks: [0.4, 0.8, 1.2, 1.6], fmt: d3.format(".1f") },
  { label: [["NO"], ["2", 1], [" (ppb)"]], xs: xNO2, fit: fitNO2, domain: [-0.4, 22.8], ticks: [0, 5, 10, 15, 20], fmt: d3.format("d") },
  { label: [["NO"], ["x", 1], [" (ppb)"]], xs: xNOx, fit: fitNOx, domain: [-1.3, 51.5], ticks: [0, 10, 20, 30, 40, 50], fmt: d3.format("d") },
  { label: [["O"], ["3", 1], [" (ppb)"]], xs: xO3, fit: fitO3, domain: [16.5, 85.4], ticks: [20, 40, 60, 80], fmt: d3.format("d") },
  { label: [["PAH"], ["456", 1], [" (ng/m\u00b3)"]], xs: xPAH, fit: fitPAH, domain: [0.85, 20.05], ticks: [5, 10, 15, 20], fmt: d3.format("d") },
  { label: [["PM"], ["10", 1], [" (ug/m\u00b3)"]], xs: xPM10, fit: fitPM10, domain: [10.7, 90.4], ticks: [25, 50, 75], fmt: d3.format("d") },
  { label: [["PM"], ["2.5", 1], [" (ug/m\u00b3)"]], xs: xPM25, fit: fitPM25, domain: [3.3, 36.5], ticks: [10, 20, 30], fmt: d3.format("d") }
];

// ---- layout ----
const W = 784, H = 428;
const gridLeft = 29, gridTop = 20;
const panelW = 89.5, panelH = 92;
const pitchX = 93.57, pitchY = 96;
const yDomain = [31, 83];

const svg = d3.select("body").append("svg")
  .attr("width", W).attr("height", H)
  .style("font-family", "Lato, 'Open Sans', sans-serif");

// major / minor grid positions like ggplot
function gridBreaks(ticks, domain) {
  const step = ticks[1] - ticks[0];
  const major = [], minor = [];
  for (let k = -1; k <= ticks.length; k++) {
    const v = ticks[0] + k * step;
    if (v >= domain[0] && v <= domain[1]) major.push(v);
    const m = v + step / 2;
    if (m >= domain[0] && m <= domain[1]) minor.push(m);
  }
  return { major, minor };
}

// confidence band around the read-off line, using the points of the panel
function bandFor(xs, ys, f) {
  const [x1, y1, x2, y2] = f;
  const b = (y2 - y1) / (x2 - x1), a = y1 - b * x1;
  const n = xs.length, xm = d3.mean(xs);
  const sxx = d3.sum(xs, v => (v - xm) ** 2);
  const s = Math.sqrt(d3.sum(xs, (v, i) => (ys[i] - a - b * v) ** 2) / (n - 2));
  return d3.range(41).map(i => {
    const xv = x1 + (x2 - x1) * i / 40;
    const se = 1.97 * s * Math.sqrt(1 / n + (xv - xm) ** 2 / sxx);
    return { x: xv, y: a + b * xv, lo: a + b * xv - se, hi: a + b * xv + se };
  });
}

const yGrid = gridBreaks(yTicks, yDomain);
const defs = svg.append("defs");

pollutants.forEach((p, c) => {
  const x0 = Math.round(gridLeft + c * pitchX) + 0.5;
  const x = d3.scaleLinear().domain(p.domain).range([x0, x0 + panelW]);
  const xGrid = gridBreaks(p.ticks, p.domain);

  // top strip
  svg.append("rect")
    .attr("x", x0).attr("y", 0.5).attr("width", panelW).attr("height", 18)
    .attr("fill", "#d9d9d9").attr("stroke", "#8c8c8c").attr("stroke-width", 1);
  const st = svg.append("text")
    .attr("x", x0 + panelW / 2).attr("y", 13.5)
    .attr("text-anchor", "middle").attr("font-size", 10.5).attr("fill", "#1a1a1a");
  let shifted = false;
  p.label.forEach(([t, sub]) => {
    const ts = st.append("tspan").text(t);
    if (sub) { ts.attr("font-size", 7).attr("dy", 2); shifted = true; }
    else if (shifted) { ts.attr("dy", -2); shifted = false; }
  });

  periods.forEach((period, r) => {
    const y0 = gridTop + r * pitchY + 0.5;
    const y = d3.scaleLinear().domain(yDomain).range([y0 + panelH, y0]);
    const g = svg.append("g");
    const clipId = `clip-${c}-${r}`;
    defs.append("clipPath").attr("id", clipId)
      .append("rect").attr("x", x0).attr("y", y0).attr("width", panelW).attr("height", panelH);

    g.append("rect").attr("x", x0).attr("y", y0).attr("width", panelW).attr("height", panelH).attr("fill", "#fff");

    // grid
    const grid = g.append("g");
    grid.selectAll(".vmin").data(xGrid.minor).join("line")
      .attr("x1", d => x(d)).attr("x2", d => x(d)).attr("y1", y0).attr("y2", y0 + panelH)
      .attr("stroke", "#f2f2f2").attr("stroke-width", 0.5);
    grid.selectAll(".hmin").data(yGrid.minor).join("line")
      .attr("y1", d => y(d)).attr("y2", d => y(d)).attr("x1", x0).attr("x2", x0 + panelW)
      .attr("stroke", "#f2f2f2").attr("stroke-width", 0.5);
    grid.selectAll(".vmaj").data(xGrid.major).join("line")
      .attr("x1", d => x(d)).attr("x2", d => x(d)).attr("y1", y0).attr("y2", y0 + panelH)
      .attr("stroke", "#e5e5e5").attr("stroke-width", 0.8);
    grid.selectAll(".hmaj").data(yGrid.major).join("line")
      .attr("y1", d => y(d)).attr("y2", d => y(d)).attr("x1", x0).attr("x2", x0 + panelW)
      .attr("stroke", "#e5e5e5").attr("stroke-width", 0.8);

    // points
    const xs = p.xs[r];
    const n = Math.min(xs.length, il10.length);
    const pts = d3.range(n).map(i => ({ x: xs[i], y: il10[i] }));
    g.append("g").attr("clip-path", `url(#${clipId})`)
      .selectAll("circle").data(pts).join("circle")
      .attr("cx", d => x(d.x)).attr("cy", d => y(d.y)).attr("r", 1.45).attr("fill", "#000");

    // smooth: band + line
    const band = bandFor(xs.slice(0, n), il10.slice(0, n), p.fit[r]);
    const sm = g.append("g").attr("clip-path", `url(#${clipId})`);
    sm.append("path").datum(band)
      .attr("d", d3.area().x(d => x(d.x)).y0(d => y(d.lo)).y1(d => y(d.hi)))
      .attr("fill", "#999").attr("fill-opacity", 0.4);
    sm.append("path").datum(band)
      .attr("d", d3.line().x(d => x(d.x)).y(d => y(d.y)))
      .attr("fill", "none").attr("stroke", "#3366FF").attr("stroke-width", 1.4);

    // border
    g.append("rect").attr("x", x0).attr("y", y0).attr("width", panelW).attr("height", panelH)
      .attr("fill", "none").attr("stroke", "#8c8c8c").attr("stroke-width", 1);

    // Q label
    const q = qLabels[r][c];
    if (q) {
      g.append("text").attr("x", x0 + panelW - 4).attr("y", y0 + panelH - 3.5)
        .attr("text-anchor", "end").attr("font-size", 6.3)
        .attr("font-family", "'Liberation Sans', Arial, sans-serif")
        .attr("fill", "#333").text(q);
    }

    // y axis on first column
    if (c === 0) {
      const ya = g.append("g");
      ya.selectAll("line").data(yTicks).join("line")
        .attr("x1", x0 - 3).attr("x2", x0).attr("y1", d => y(d)).attr("y2", d => y(d))
        .attr("stroke", "#777").attr("stroke-width", 0.6);
      ya.selectAll("text").data(yTicks).join("text")
        .attr("x", x0 - 4).attr("y", d => y(d)).attr("dy", "0.35em")
        .attr("text-anchor", "end").attr("font-size", 6.5)
        .attr("font-family", "'Liberation Sans', Arial, sans-serif")
        .attr("fill", "#666").text(d => d);
    }

    // x axis on last row
    if (r === periods.length - 1) {
      const xa = g.append("g");
      xa.selectAll("line").data(p.ticks).join("line")
        .attr("x1", d => x(d)).attr("x2", d => x(d)).attr("y1", y0 + panelH).attr("y2", y0 + panelH + 3)
        .attr("stroke", "#777").attr("stroke-width", 0.6);
      xa.selectAll("text").data(p.ticks).join("text")
        .attr("x", d => x(d)).attr("y", y0 + panelH + 9.5)
        .attr("text-anchor", "middle").attr("font-size", 6.5)
        .attr("font-family", "'Liberation Sans', Arial, sans-serif")
        .attr("fill", "#666").text(d => p.fmt(d));
    }

    // right strips
    if (c === pollutants.length - 1) {
      const sx = x0 + panelW + 1.5;
      svg.append("rect").attr("x", sx).attr("y", y0).attr("width", 20).attr("height", panelH)
        .attr("fill", "#d9d9d9").attr("stroke", "#8c8c8c").attr("stroke-width", 1);
      svg.append("text")
        .attr("transform", `translate(${sx + 3.6},${y0 + panelH / 2}) rotate(90)`)
        .attr("text-anchor", "middle").attr("dominant-baseline", "central")
        .attr("font-size", 9.5).attr("fill", "#1a1a1a")
        .text(period);
    }
  });
});

// axis titles
svg.append("text")
  .attr("transform", "translate(9,207) rotate(-90)")
  .attr("text-anchor", "middle").attr("dominant-baseline", "central")
  .attr("font-size", 13.5).attr("fill", "#1a1a1a")
  .text("IL 10");
svg.append("text")
  .attr("x", 401).attr("y", 424)
  .attr("text-anchor", "middle").attr("font-size", 13.5).attr("fill", "#1a1a1a")
  .text("Pollution measure");
</script>
</body>
</html>
